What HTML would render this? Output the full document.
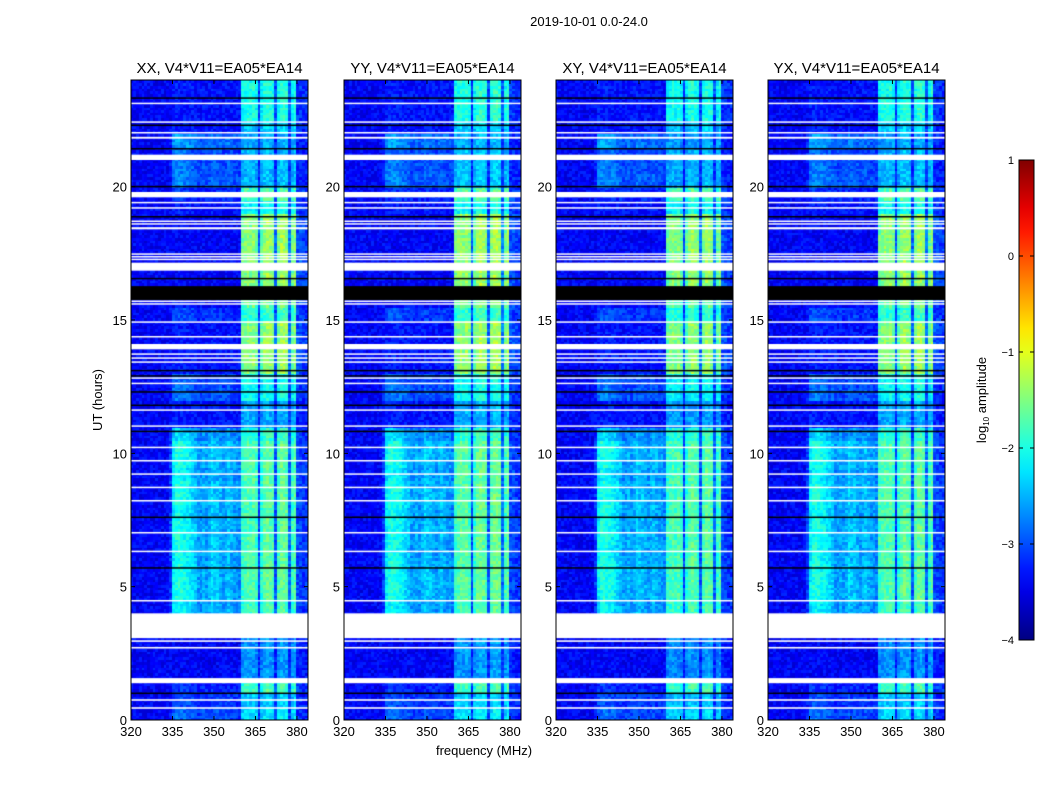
<!DOCTYPE html>
<html><head><meta charset="utf-8"><style>
body{margin:0;background:#fff;font-family:"Liberation Sans",sans-serif;}
#wrap{position:relative;width:1050px;height:800px;overflow:hidden;}
</style></head><body>
<div id="wrap">
<svg id="svg" width="1050" height="800" style="position:absolute;left:0;top:0"></svg>
</div>
<script>
// ---- data ----
const panelTitles = ["XX, V4*V11=EA05*EA14","YY, V4*V11=EA05*EA14","XY, V4*V11=EA05*EA14","YX, V4*V11=EA05*EA14"];
const panelGain = [0, 0.05, -0.05, 0];
const xTicks = [320,335,350,365,380];
const yTicks = [0,5,10,15,20];
const cbTicks = [1,0,-1,-2,-3,-4];
const bgLevel = -3.4;
// per 0.5h row (48 rows)
const humpAmp = [0.4,0.3,0.2,0,0,0,0,0,0.9,1,1,1,0.95,1,1,0.95,1,1,0.9,1,1,0.8,0.1,0.1,0.45,0.4,0.1,0.1,0.1,0.1,0.3,0.05,0,0,0,0,0,0,0.1,0.2,0.5,0.45,0.4,0.6,0.1,0.1,0.1,0.1];
const rfiAmp = [-2.2,-2.3,-1.7,-2.6,-2.6,-2.6,-2.6,-2.6,-1.7,-1.6,-1.6,-1.6,-1.6,-1.6,-1.6,-1.6,-1.6,-1.6,-1.6,-1.6,-1.6,-1.8,-2.5,-2.5,-2.0,-2.0,-1.3,-1.3,-1.3,-1.3,-1.8,-1.5,-1.3,-1.3,-1.3,-1.3,-1.3,-1.3,-2.0,-1.6,-2.4,-2.4,-2.4,-2.5,-2.3,-1.9,-1.9,-1.9];
// per 1 MHz bin, 320..383
const humpProfile = [0,0,0,0,0,0,0,0,0,0,0,0,0,0,0.3,1.25,1.4,1.45,1.4,1.35,1.3,1.2,1.1,1.0,0.8,0.8,0.9,0.8,0.9,1.1,1.0,1.0,0.9,0.8,0.9,1.0,0.9,0.8,0.8,0.7,0,0,0,0,0,0,0,0,0,0,0,0,0,0,0,0,0,0,0,0,0,0,0,0];
const rfiProfile = [0,0,0,0,0,0,0,0,0,0,0,0,0,0,0,0,0,0,0,0,0,0,0,0,0,0,0,0,0,0,0,0,0,0,0,0,0,0,0,0,0.85,0.9,0.95,0.9,0.95,0.85,0.2,0.8,0.95,1,0.95,0.9,0.25,0.9,1,1,0.95,0.3,0.85,0.95,0.2,0.2,0.15,0.15];
const whiteFlags = [[0.42,0.48],[0.72,0.78],[1.38,1.57],[2.68,2.74],[2.93,2.99],[3.07,4.0],[4.45,4.5],[6.3,6.35],[7.0,7.05],[8.2,8.25],[8.7,8.75],[9.2,9.25],[9.7,9.75],[10.2,10.25],[11.0,11.05],[11.6,11.65],[12.6,12.65],[12.8,12.85],[13.4,13.45],[13.55,13.6],[13.7,13.75],[13.9,14.1],[14.36,14.4],[14.9,14.95],[15.6,15.63],[15.7,15.73],[16.85,17.15],[17.25,17.3],[17.35,17.4],[17.45,17.5],[18.4,18.48],[18.6,18.63],[18.7,18.73],[19.2,19.23],[19.4,19.43],[19.6,19.8],[21.0,21.2],[21.8,21.87],[22.0,22.05],[22.4,22.45],[23.1,23.15]];
const blackFlags = [[1.0,1.03],[5.7,5.73],[7.6,7.63],[10.8,10.85],[11.8,11.83],[12.3,12.33],[12.9,12.93],[13.1,13.13],[15.75,16.27],[16.55,16.58],[18.85,18.9],[20.0,20.03],[21.4,21.45],[22.3,22.33],[23.3,23.35]];

// ---- layout ----
const panelX = [131,344,556,768], PW = 177, PT = 80, PB = 720;
const fMin = 320, fMax = 384, tMin = 0, tMax = 24;
const NS = "http://www.w3.org/2000/svg";
const svg = document.getElementById('svg');
function el(tag, attrs, parent){const e=document.createElementNS(NS,tag);for(const k in attrs)e.setAttribute(k,attrs[k]);(parent||svg).appendChild(e);return e;}
function xs(px0,f){return px0 + (f-fMin)/(fMax-fMin)*PW;}
function ys(t){return PB - (t-tMin)/(tMax-tMin)*(PB-PT);}
function jet(v){let x=(v+4)/5;x=Math.max(0,Math.min(1,x));
 const c=t=>Math.max(0,Math.min(1,t));
 const r=c(Math.min(4*x-1.5,-4*x+4.5)),g=c(Math.min(4*x-0.5,-4*x+3.5)),b=c(Math.min(4*x+0.5,-4*x+2.5));
 return `rgb(${Math.round(r*255)},${Math.round(g*255)},${Math.round(b*255)})`;}
function noise(a,b,c){let h=(a*374761393+b*668265263+c*2147483647)|0;h=(h^(h>>>13))*1274126177|0;return ((h^(h>>>16))>>>0)/4294967295-0.5;}

const title = el('text',{x:589,y:26,'text-anchor':'middle','font-size':13});
title.textContent='2019-10-01 0.0-24.0';



panelX.forEach((px0,p)=>{
 const g = el('g',{});
 
 
 const fo = el('foreignObject',{x:px0,y:PT,width:PW,height:PB-PT},g);
 const cv = document.createElement('canvas'); cv.width=PW; cv.height=PB-PT;
 
 
 fo.appendChild(cv);
 const ctx = cv.getContext('2d');
 const nT = 240, dt = (tMax-tMin)/nT;
 for(let ti=0;ti<nT;ti++){
  const t = tMin+ti*dt; const ri = Math.min(humpAmp.length-1,Math.floor(t/0.5));
  for(let fi=0;fi<humpProfile.length;fi++){
   let v = bgLevel + humpAmp[ri]*humpProfile[fi];
   if(rfiProfile[fi]>0){ v = Math.max(v, bgLevel + (rfiAmp[ri]+panelGain[p]-bgLevel)*rfiProfile[fi]); }
   v += 0.45*noise(ti,fi,p);
   ctx.fillStyle = jet(v);
   const x0 = xs(0,fMin+fi), x1 = xs(0,fMin+fi+1);
   const y0 = ys(t+dt)-PT, y1 = ys(t)-PT;
   ctx.fillRect(Math.floor(x0),Math.floor(y0),Math.ceil(x1-x0)+1,Math.ceil(y1-y0)+1);
  }
 }
 whiteFlags.forEach(([a,b])=>{ctx.fillStyle='#fff';const y0=ys(b)-PT,y1=ys(a)-PT;ctx.fillRect(0,y0,PW,Math.max(1.5,y1-y0));});
 blackFlags.forEach(([a,b])=>{ctx.fillStyle='#000';const y0=ys(b)-PT,y1=ys(a)-PT;ctx.fillRect(0,y0,PW,Math.max(1.5,y1-y0));});
 const fr = el('rect',{x:px0,y:PT,width:PW,height:PB-PT,fill:'none',stroke:'#000','stroke-width':1},g);
 
 
 const tt = el('text',{x:px0+PW/2,y:73,'text-anchor':'middle','font-size':15},g);
 tt.textContent = panelTitles[p];
 
 
 xTicks.forEach(f=>{
  const x = xs(px0,f);
  el('line',{x1:x,x2:x,y1:PB,y2:PB-4,stroke:'#000'},g);
  el('line',{x1:x,x2:x,y1:PT,y2:PT+4,stroke:'#000'},g);
  const l = el('text',{x:x,y:PB+16,'text-anchor':'middle','font-size':13},g);
  l.textContent=f;
  
  
 });
 yTicks.forEach(t=>{
  const y = ys(t);
  el('line',{x1:px0,x2:px0+4,y1:y,y2:y,stroke:'#000'},g);
  el('line',{x1:px0+PW,x2:px0+PW-4,y1:y,y2:y,stroke:'#000'},g);
  const l = el('text',{x:px0-4,y:y+5,'text-anchor':'end','font-size':13},g);
  l.textContent=t;
  
  
 });
});
const yl = el('text',{x:0,y:0,'font-size':13,'text-anchor':'middle',transform:'translate(102,400) rotate(-90)'});
yl.textContent='UT (hours)';


const xl = el('text',{x:484,y:755,'font-size':13,'text-anchor':'middle'});
xl.textContent='frequency (MHz)';



// colorbar
const CBX=1019,CBW=15,CBT=160,CBB=640;
const defs = el('defs',{});
const grad = el('linearGradient',{id:'jetg',x1:0,y1:1,x2:0,y2:0},defs);
for(let i=0;i<=20;i++){const v=-4+5*i/20;el('stop',{offset:(i/20),'stop-color':jet(v)},grad);}
const cb = el('rect',{x:CBX,y:CBT,width:CBW,height:CBB-CBT,fill:'url(#jetg)',stroke:'#000','stroke-width':1});


cbTicks.forEach(v=>{
 const y = CBB-(v+4)/5*(CBB-CBT);
 el('line',{x1:CBX,x2:CBX+4,y1:y,y2:y,stroke:'#000'});
 el('line',{x1:CBX+CBW,x2:CBX+CBW-4,y1:y,y2:y,stroke:'#000'});
 const l = el('text',{x:CBX-5,y:y+4,'text-anchor':'end','font-size':11});
 l.textContent = v<0?('\u2212'+(-v)):String(v);
 
 
});
const cl = el('text',{x:0,y:0,'font-size':13,'text-anchor':'middle',transform:'translate(986,400) rotate(-90)'});
cl.innerHTML='log<tspan font-size="8" dy="3">10</tspan><tspan dy="-3"> amplitude</tspan>';


</script>
</body></html>
